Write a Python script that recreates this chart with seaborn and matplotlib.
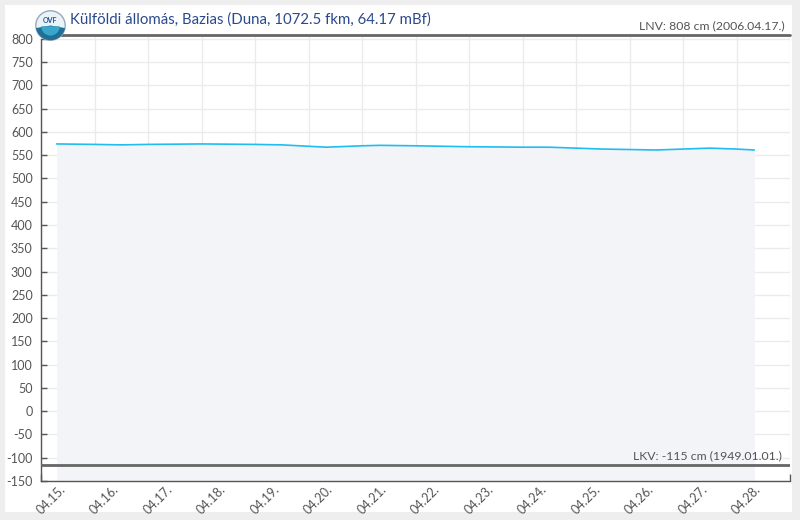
import matplotlib
matplotlib.use("Agg")
import matplotlib.pyplot as plt
import matplotlib.transforms as mtrans
from matplotlib.patches import Circle, Wedge
import seaborn as sns
import pandas as pd

# ---- data ----
times = ["2024-04-15 07:00", "2024-04-16 00:00", "2024-04-16 12:00", "2024-04-17 00:00",
         "2024-04-18 00:00", "2024-04-19 00:00", "2024-04-19 12:00", "2024-04-20 00:00",
         "2024-04-20 08:00", "2024-04-21 00:00", "2024-04-21 08:00", "2024-04-22 00:00",
         "2024-04-23 00:00", "2024-04-24 00:00", "2024-04-24 12:00", "2024-04-25 00:00",
         "2024-04-25 12:00", "2024-04-26 00:00", "2024-04-26 12:00", "2024-04-27 00:00",
         "2024-04-27 12:00", "2024-04-28 00:00", "2024-04-28 08:00"]
levels = [574, 573, 572, 573, 574, 573, 572, 569, 567, 570, 571, 570,
          568, 567, 567, 565, 563, 562, 561, 563, 565, 563, 561]
day_labels = ["04.15.", "04.16.", "04.17.", "04.18.", "04.19.", "04.20.", "04.21.",
              "04.22.", "04.23.", "04.24.", "04.25.", "04.26.", "04.27.", "04.28.", ""]
yticks = list(range(-150, 801, 50))
lnv_value = 808
lkv_value = -115
title = "Külföldi állomás, Bazias (Duna, 1072.5 fkm, 64.17 mBf)"
lnv_text = "LNV: 808 cm (2006.04.17.)"
lkv_text = "LKV: -115 cm (1949.01.01.)"

df = pd.DataFrame({"t": pd.to_datetime(times), "v": levels})

sns.set_theme(style="white")
plt.rcParams["font.family"] = ["Lato", "DejaVu Sans"]

fig = plt.figure(figsize=(8, 5.2), dpi=100, facecolor="#eeeeee")
bg = fig.add_axes([5/800, 1-512/520, 787/800, 507/520], zorder=-10)
bg.set_facecolor("white")
bg.set_xticks([]); bg.set_yticks([])
for s in bg.spines.values():
    s.set_visible(False)

ax = fig.add_axes([41/800, 1-481/520, 749/800, 446/520], zorder=1)
ax.set_facecolor("white")

x0 = pd.Timestamp("2024-04-15 00:00")
x1 = pd.Timestamp("2024-04-29 00:00")

ax.fill_between(df["t"], -150, df["v"], color="#f3f4f8", linewidth=0, zorder=1)
sns.lineplot(data=df, x="t", y="v", ax=ax, color="#1fbdf0", linewidth=1.2, zorder=3)
ax.set_xlim(x0, x1)
ax.set_ylim(-150, 808)

ticks = pd.date_range("2024-04-15", periods=len(day_labels), freq="D")
ax.set_xticks(ticks)
ax.set_xticklabels(day_labels, rotation=45, ha="center", va="center", rotation_mode="anchor")
ax.set_yticks(yticks)
ax.set_yticklabels([str(v) for v in yticks])
ax.grid(True, color="#ebebee", linewidth=1)
ax.set_axisbelow(True)
ax.tick_params(axis="both", colors="#555555", labelcolor="#555555", labelsize=9,
               direction="in", length=5, width=1, bottom=True, left=True)
ax.tick_params(axis="x", pad=5)
ax.tick_params(axis="y", pad=6, length=4)
offset = mtrans.ScaledTranslation(10/100, -12/100, fig.dpi_scale_trans)
for lbl in ax.get_xticklabels():
    lbl.set_transform(lbl.get_transform() + offset)
for s in ["top", "right"]:
    ax.spines[s].set_visible(False)
for s in ["left", "bottom"]:
    ax.spines[s].set_color("#555555")
    ax.spines[s].set_linewidth(1)
ax.spines["left"].set_bounds(-150, 800)
ax.set_xlabel("")
ax.set_ylabel("")

ax.axhline(lnv_value, color="#666666", linewidth=2, zorder=4, clip_on=False)
ax.axhline(lkv_value, color="#666666", linewidth=2, zorder=4)
ax.text(0.993, lnv_value + 8, lnv_text, transform=ax.get_yaxis_transform(), ha="right",
        va="bottom", fontsize=8.8, color="#555555")
ax.text(0.989, lkv_value + 8, lkv_text, transform=ax.get_yaxis_transform(), ha="right",
        va="bottom", fontsize=8.8, color="#555555")

# title and logo
fig.text(70/800, 1-20/520, title, ha="left", va="center", fontsize=10.8, color="#2a4a8c")
logo = fig.add_axes([35/800, 1-41/520, 31/800, 31/520], zorder=5)
logo.set_xlim(-1, 1); logo.set_ylim(-1, 1); logo.set_aspect("equal"); logo.axis("off")
logo.add_patch(Circle((0, 0), 0.95, facecolor="#e8f3f8", edgecolor="#9aa9b8", linewidth=1))
logo.add_patch(Wedge((0, 0), 0.95, 190, 350, facecolor="#1f6f97", edgecolor="none"))
logo.add_patch(Wedge((0, -0.05), 0.6, 180, 360, facecolor="#3aa6c9", edgecolor="none"))
logo.text(0, 0.35, "OVF", ha="center", va="center", fontsize=5, color="#2a4a8c", fontweight="bold")

fig.savefig("out.png", dpi=100, facecolor=fig.get_facecolor())
